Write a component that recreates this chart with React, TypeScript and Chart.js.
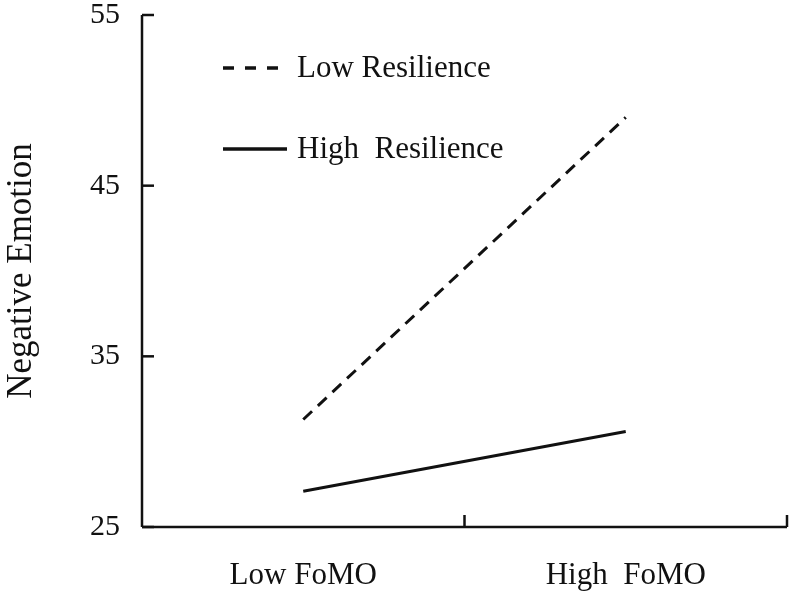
import React, { useEffect, useRef } from "react";
import { Chart, registerables } from "chart.js";

Chart.register(...registerables);

const categories = ["Low FoMO", "High  FoMO"];
const lowResilience = [31.3, 49.0];
const highResilience = [27.1, 30.6];
const seriesNames = ["Low Resilience", "High  Resilience"];
const yTicks = [25, 35, 45, 55];
const yTitle = "Negative Emotion";

const FONT = '"Liberation Serif", "Times New Roman", serif';
const INK = "#111111";

const axesPlugin = {
  id: "customAxes",
  afterDraw(chart: any) {
    const { ctx, chartArea, scales } = chart;
    const x = scales.x;
    const y = scales.y;
    ctx.save();
    ctx.strokeStyle = INK;
    ctx.lineWidth = 2.5;
    ctx.setLineDash([]);
    // y axis line
    ctx.beginPath();
    ctx.moveTo(chartArea.left, chartArea.top);
    ctx.lineTo(chartArea.left, chartArea.bottom);
    ctx.stroke();
    // y ticks (inward)
    yTicks.forEach((v) => {
      const py = y.getPixelForValue(v);
      ctx.beginPath();
      ctx.moveTo(chartArea.left, py);
      ctx.lineTo(chartArea.left + 12, py);
      ctx.stroke();
    });
    // x axis line
    ctx.beginPath();
    ctx.moveTo(chartArea.left, chartArea.bottom);
    ctx.lineTo(chartArea.right, chartArea.bottom);
    ctx.stroke();
    // x ticks at category boundaries
    const p0 = x.getPixelForValue(0);
    const p1 = x.getPixelForValue(1);
    const half = (p1 - p0) / 2;
    [p0 + half, p1 + half].forEach((px) => {
      ctx.beginPath();
      ctx.moveTo(px, chartArea.bottom);
      ctx.lineTo(px, chartArea.bottom - 12);
      ctx.stroke();
    });

    // legend
    const items = [
      { name: seriesNames[0], dash: [11, 11], y: 68 },
      { name: seriesNames[1], dash: [], y: 149 },
    ];
    ctx.font = `31px ${FONT}`;
    ctx.fillStyle = INK;
    ctx.textBaseline = "middle";
    ctx.textAlign = "left";
    items.forEach((it) => {
      ctx.lineWidth = 3.5;
      ctx.setLineDash(it.dash);
      ctx.beginPath();
      ctx.moveTo(223, it.y);
      ctx.lineTo(287, it.y);
      ctx.stroke();
      ctx.setLineDash([]);
      ctx.fillText(it.name, 297, it.y + 1);
    });
    ctx.restore();
  },
};

export default function App() {
  const ref = useRef<HTMLCanvasElement>(null);

  useEffect(() => {
    document.body.style.margin = "0";
    const canvas = ref.current;
    if (!canvas) return;
    const chart = new Chart(canvas, {
      type: "line",
      data: {
        labels: categories,
        datasets: [
          {
            label: seriesNames[0],
            data: lowResilience,
            borderColor: INK,
            borderWidth: 3,
            borderDash: [12, 8],
            pointRadius: 0,
            fill: false,
            tension: 0,
          },
          {
            label: seriesNames[1],
            data: highResilience,
            borderColor: INK,
            borderWidth: 3,
            pointRadius: 0,
            fill: false,
            tension: 0,
          },
        ],
      },
      options: {
        responsive: false,
        animation: false,
        layout: { padding: { top: 15, right: 6, bottom: 0, left: 0 } },
        plugins: {
          legend: { display: false },
          tooltip: { enabled: false },
        },
        scales: {
          x: {
            type: "category",
            offset: true,
            grid: { display: false },
            border: { display: false },
            ticks: {
              color: INK,
              padding: 22,
              font: { family: FONT, size: 31, lineHeight: 1.2 },
            },
            afterFit(scale: any) {
              scale.height = 65;
              scale.paddingLeft = 0;
              scale.paddingRight = 0;
            },
          },
          y: {
            min: 25,
            max: 55,
            grid: { display: false },
            border: { display: false },
            afterBuildTicks(scale: any) {
              scale.ticks = yTicks.map((v) => ({ value: v }));
            },
            ticks: {
              color: INK,
              padding: 14,
              font: { family: FONT, size: 30, lineHeight: 1 },
            },
            title: {
              display: true,
              text: yTitle,
              color: INK,
              font: { family: FONT, size: 35, lineHeight: 1.2 },
              padding: { top: 1, bottom: 0 },
            },
            afterFit(scale: any) {
              scale.width = 142;
              scale.paddingTop = 0;
              scale.paddingBottom = 0;
            },
          },
        },
      },
      plugins: [axesPlugin],
    });
    return () => chart.destroy();
  }, []);

  return (
    <div style={{ width: 793, height: 592, background: "#fff" }}>
      <canvas ref={ref} width={793} height={592} style={{ display: "block" }} />
    </div>
  );
}
